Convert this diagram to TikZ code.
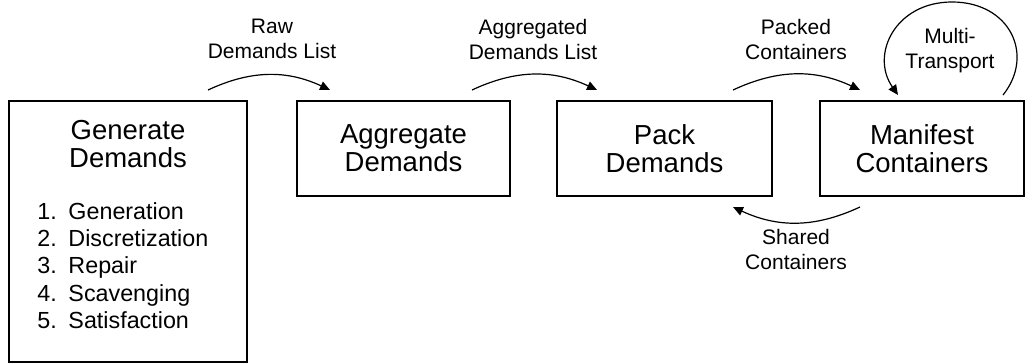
\documentclass[tikz,border=0pt]{standalone}
\usepackage{fontspec}
\setmainfont{Liberation Sans}
\usetikzlibrary{arrows.meta,calc}

\begin{document}
\begin{tikzpicture}[x=0.5pt,y=0.5pt,
    box/.style={draw,line width=1pt,outer sep=0pt,anchor=north west,minimum height=47.5pt,align=center,font=\fontsize{13.75}{14}\selectfont},
    title/.style={align=center,inner sep=0pt,font=\fontsize{13.75}{14}\selectfont},
    item/.style={align=left,inner sep=0pt,font=\fontsize{11.65}{13.6}\selectfont},
    lbl/.style={align=center,inner sep=0pt,font=\fontsize{10.5}{12.5}\selectfont},
    link/.style={line width=0.6pt,-{Triangle[length=5pt,width=4.5pt]}}]
    \useasboundingbox (0,0) rectangle (1026,-363);

    \node[box,minimum width=119pt,minimum height=130.5pt] (gen) at (9,-101) {};
    \node[title] (gentitle) at ($(gen.north)+(0,-43.5)$) {Generate\\Demands};
    \node[item,anchor=west] (genlist) at ($(gen.west)+(28,-34)$) {1.\enspace Generation\\2.\enspace Discretization\\3.\enspace Repair\\4.\enspace Scavenging\\5.\enspace Satisfaction};

    \node[box,minimum width=106.5pt] (agg) at (297,-101) {Aggregate\\Demands};
    \node[box,minimum width=107.5pt] (pack) at (557,-101) {Pack\\Demands};
    \node[box,minimum width=102pt] (man) at (820,-101) {Manifest\\Containers};

    \draw[link] ($(gen.north east)+(-39,11)$) to[bend left=25] ($(agg.north west)+(33,11)$);
    \draw[link] ($(agg.north east)+(-38,11)$) to[bend left=25] ($(pack.north west)+(40,11)$);
    \draw[link] ($(pack.north east)+(-39,11)$) to[bend left=25] ($(man.north west)+(40,11)$);
    \draw[link] ($(man.south west)+(40,-11)$) to[bend left=25] ($(pack.south east)+(-39,-11)$);

    \coordinate (mtstart) at ($(man.north east)+(-21,6)$);
    \coordinate (mttop) at ($(man.north)+(30,99)$);
    \coordinate (mtend) at ($(man.north west)+(78,6)$);
    \draw[link] (mtstart) .. controls +(32,40) and +(58,0) .. (mttop) .. controls +(-57,0) and +(-28,40) .. (mtend);

    \node[lbl] (rawlbl) at (272,-39) {Raw\\Demands List};
    \node[lbl] (agglbl) at (533,-39) {Aggregated\\Demands List};
    \node[lbl] (packlbl) at (796,-39) {Packed\\Containers};
    \node[lbl] (mtlbl) at (950,-51) {Multi-\\Transport};
    \node[lbl] (sharedlbl) at (796,-249) {Shared\\Containers};
\end{tikzpicture}
\end{document}
